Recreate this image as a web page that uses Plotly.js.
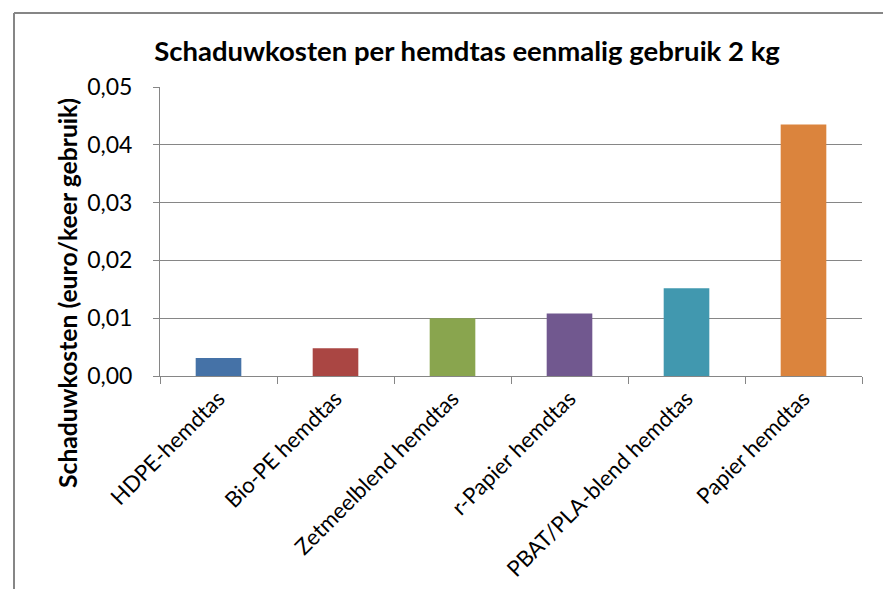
<!DOCTYPE html>
<html>
<head>
<meta charset="utf-8">
<script src="https://cdn.plot.ly/plotly-3.0.1.min.js"></script>
<style>
html,body{margin:0;padding:0;background:#fff;}
#chart{width:883px;height:589px;}
</style>
</head>
<body>
<div id="chart"></div>
<script>
// Data
var categories = ["HDPE-hemdtas", "Bio-PE hemdtas", "Zetmeelblend hemdtas", "r-Papier hemdtas", "PBAT/PLA-blend hemdtas", "Papier hemdtas"];
var values = [0.0031, 0.0048, 0.0100, 0.0108, 0.0152, 0.0435];
var barColors = ["#4572A7", "#AA4643", "#89A54E", "#71588F", "#4198AF", "#DB843D"];
var chartTitle = "Schaduwkosten per hemdtas eenmalig gebruik 2 kg";
var yTitle = "Schaduwkosten (euro/keer gebruik)";

// Layout helpers (pixel -> paper)
var W = 883, H = 589;
var mL = 160, mR = 21, mT = 87, mB = 213;
var pw = W - mL - mR, ph = H - mT - mB;
function px(x){ return (x - mL) / pw; }
function py(y){ return (H - mB - y) / ph; }

var FONT = "Lato, 'Open Sans', sans-serif";
var GREY = "#868686";

var trace = {
  type: "bar",
  x: categories,
  y: values,
  marker: { color: barColors, line: { width: 0 } },
  width: 0.39,
  hoverinfo: "x+y"
};

var layout = {
  width: W, height: H,
  margin: { l: mL, r: mR, t: mT, b: mB, pad: 0 },
  paper_bgcolor: "#fff",
  plot_bgcolor: "#fff",
  separators: ",.",
  showlegend: false,
  font: { family: FONT, color: "#000" },
  title: {
    text: "<b>" + chartTitle + "</b>",
    font: { family: FONT, size: 27.5, color: "#000" },
    xref: "paper", x: px(467), xanchor: "center",
    yref: "container", y: 1 - 51 / H, yanchor: "middle"
  },
  xaxis: {
    type: "category",
    showline: true, linecolor: GREY, linewidth: 1,
    ticks: "outside", ticklen: 7, tickcolor: GREY, tickwidth: 1,
    tickson: "boundaries",
    tickangle: -45,
    tickfont: { family: FONT, size: 22, color: "#000" },
    showgrid: false,
    zeroline: false,
    fixedrange: true
  },
  yaxis: {
    range: [0, 0.05],
    dtick: 0.01,
    tick0: 0,
    tickformat: ".2f",
    showline: true, linecolor: GREY, linewidth: 1,
    ticks: "outside", ticklen: 6, tickcolor: GREY, tickwidth: 1,
    ticklabelstandoff: 16,
    tickfont: { family: FONT, size: 23, color: "#000" },
    showgrid: true, gridcolor: GREY, gridwidth: 1,
    zeroline: false,
    fixedrange: true
  },
  annotations: [{
    text: "<b>" + yTitle + "</b>",
    xref: "paper", yref: "paper",
    x: px(67), y: py(293),
    xanchor: "center", yanchor: "middle",
    textangle: -90,
    showarrow: false,
    font: { family: FONT, size: 24.7, color: "#000" }
  }],
  shapes: [
    { type: "line", xref: "paper", yref: "paper", x0: px(14), x1: px(W + 5), y0: py(13), y1: py(13), line: { color: GREY, width: 2 } },
    { type: "line", xref: "paper", yref: "paper", x0: px(14), x1: px(14), y0: py(13), y1: py(H + 5), line: { color: GREY, width: 2 } }
  ]
};

Plotly.newPlot("chart", [trace], layout, { displayModeBar: false, staticPlot: true });
</script>
</body>
</html>
